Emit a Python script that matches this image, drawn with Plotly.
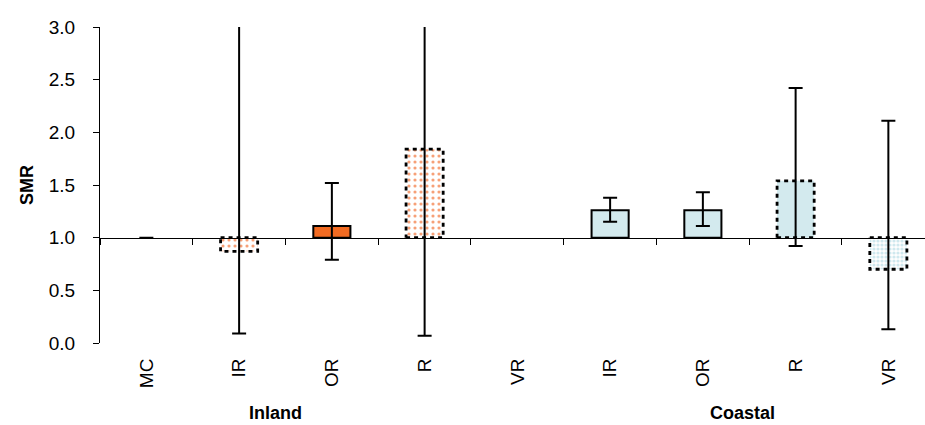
import plotly.graph_objects as go

# ---- data ----
categories = ["MC", "IR", "OR", "R", "VR", "IR", "OR", "R", "VR"]
groups = ["Inland", "Coastal"]
group_pos = [1.39, 6.43]          # label anchor (category units)
smr = [1.00, 0.87, 1.11, 1.84, None, 1.26, 1.26, 1.54, 0.70]
ci_upper = [1.00, 3.50, 1.52, 3.50, None, 1.38, 1.43, 2.42, 2.11]
ci_lower = [1.00, 0.09, 0.79, 0.07, None, 1.15, 1.11, 0.92, 0.13]
style = ["ref", "dot_o", "solid_o", "dot_o", "none", "solid_b", "solid_b", "dash_b", "dot_b"]
y_ticks = [0.0, 0.5, 1.0, 1.5, 2.0, 2.5, 3.0]

# ---- styles ----
ORANGE = "#F26B22"
BLUE = "#D3EAEE"
STYLES = {
    "ref":     dict(color="rgba(0,0,0,0)", line=dict(width=0)),
    "solid_o": dict(color=ORANGE, line=dict(color="black", width=2)),
    "solid_b": dict(color=BLUE, line=dict(color="black", width=2)),
    "dash_b":  dict(color=BLUE, line=dict(width=0)),
    "dot_o":   dict(color="white", line=dict(width=0),
                    pattern=dict(shape=".", fgcolor="#F7A077", bgcolor="white",
                                 size=6, solidity=0.22, fillmode="replace")),
    "dot_b":   dict(color="white", line=dict(width=0),
                    pattern=dict(shape=".", fgcolor="#CFE8EE", bgcolor="white",
                                 size=4, solidity=0.5, fillmode="replace")),
}
DASHED = {"dot_o", "dash_b", "dot_b"}
BAR_W = 0.4
BASE = 1.0

fig = go.Figure()
for key, mk in STYLES.items():
    idx = [i for i, s in enumerate(style) if s == key and smr[i] is not None]
    if not idx:
        continue
    fig.add_trace(go.Bar(
        x=idx, y=[smr[i] - BASE for i in idx], base=BASE, width=BAR_W,
        marker=mk,
        error_y=dict(type="data", symmetric=False,
                     array=[ci_upper[i] - smr[i] for i in idx],
                     arrayminus=[smr[i] - ci_lower[i] for i in idx],
                     color="black", thickness=2, width=7),
        showlegend=False, hoverinfo="skip",
    ))

# dashed outlines for the non-significant bars (built from the data)
for i, v in enumerate(smr):
    if v is None or style[i] not in DASHED:
        continue
    xs = [i - BAR_W / 2, i + BAR_W / 2, i + BAR_W / 2, i - BAR_W / 2, i - BAR_W / 2]
    ys = [BASE, BASE, v, v, BASE]
    fig.add_trace(go.Scatter(
        x=xs, y=ys, xaxis="x2", mode="lines",
        line=dict(color="black", width=2.8, dash="4px,4px"),
        showlegend=False, hoverinfo="skip",
    ))

XR = [-0.5, 8.395]
fig.update_layout(
    width=925, height=425, barmode="overlay",
    margin=dict(l=100, r=0, t=26.5, b=81.7, autoexpand=False),
    plot_bgcolor="white", paper_bgcolor="white",
    font=dict(family="Liberation Sans, Arial, sans-serif", color="black"),
    xaxis=dict(
        range=XR, tickmode="array", tickvals=list(range(len(categories))), ticktext=categories,
        tickangle=-90, tickfont=dict(size=19), showline=False, showgrid=False,
        zeroline=False, ticks="outside", ticklen=0, ticklabelstandoff=7, automargin=False,
    ),
    xaxis2=dict(
        range=XR, overlaying="x", anchor="free", position=BASE / 3.0, side="bottom",
        tickmode="array", tickvals=[i - 0.5 for i in range(len(categories) + 1)],
        showticklabels=False, ticks="outside", ticklen=6, tickcolor="black",
        showline=True, linecolor="black", linewidth=1, showgrid=False, zeroline=False,
        automargin=False,
    ),
    yaxis=dict(
        range=[0, 3], tickmode="array", tickvals=y_ticks,
        ticktext=[f"{t:.1f}" for t in y_ticks], tickfont=dict(size=19),
        showline=True, linecolor="black", linewidth=1, ticks="outside", ticklen=6,
        tickcolor="black", showgrid=False, zeroline=False, ticklabelstandoff=14,
        title=dict(text="<b>SMR</b>", font=dict(size=18), standoff=10), automargin=False,
    ),
)
for g, p in zip(groups, group_pos):
    fig.add_annotation(x=p, y=0, xref="x", yref="paper", yshift=-70, text=f"<b>{g}</b>",
                       showarrow=False, font=dict(size=18), yanchor="middle")

fig.write_html("out.html", config={"displayModeBar": False},
               post_script="document.body.style.margin='0';document.body.style.overflow='hidden';")
